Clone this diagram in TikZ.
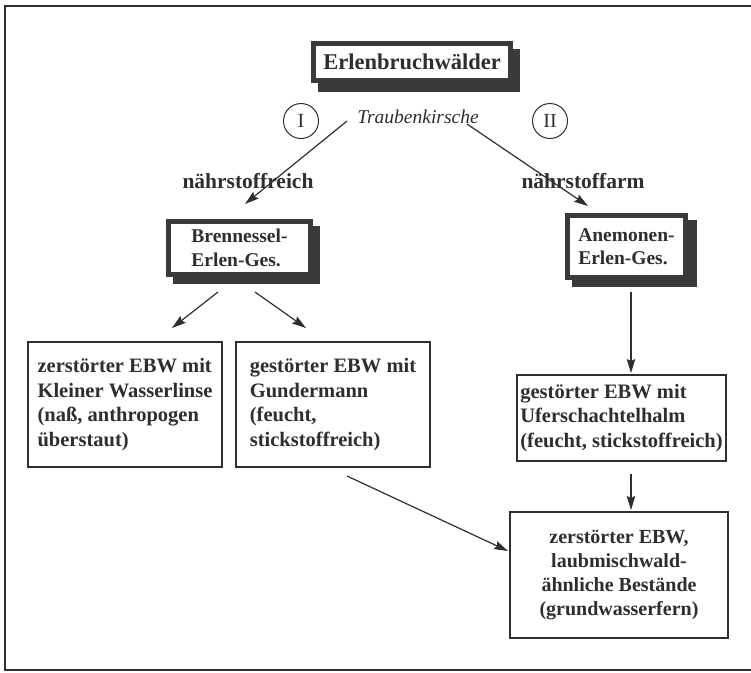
\documentclass[tikz,border=0pt]{standalone}
\usepackage{fontspec}
\setmainfont{Liberation Serif}
\usetikzlibrary{arrows.meta,backgrounds,calc}
\definecolor{ink}{HTML}{2E2E2E}
\definecolor{shade}{HTML}{3A3A3A}
\begin{document}
\begin{tikzpicture}[x=1pt,y=-1pt,
  shbox/.style={draw=shade,line width=5pt,fill=white,outer sep=0pt,align=left,inner sep=0pt,text=ink,font=\fontsize{19.5}{23.5}\selectfont\bfseries},
  titlebox/.style={shbox,font=\fontsize{22.5}{26}\selectfont\bfseries},
  plainbox/.style={draw=ink,line width=2pt,fill=white,outer sep=0pt,align=left,inner sep=0pt,text=ink,font=\fontsize{20.5}{24.5}\selectfont\bfseries},
  endbox/.style={plainbox,align=center,font=\fontsize{20}{24.3}\selectfont\bfseries},
  roman/.style={draw=ink,line width=1pt,circle,minimum size=35pt,inner sep=0pt,text=ink,font=\fontsize{20}{24}\selectfont},
  branch/.style={text=ink,font=\fontsize{21.5}{25}\selectfont\bfseries,inner sep=0pt},
  conn/.style={draw=ink,line width=1.2pt,-{Stealth[length=14pt,width=8.5pt,inset=2pt]}},
  shadowfill/.style={fill=shade}
]
\useasboundingbox (0,0) rectangle (751,672);
% outer frame
\draw[ink,line width=1.5pt] (751,6) -- (5,6) -- (5,670) -- (751,670);

% boxes with shadow
\node[titlebox,minimum width=197pt,minimum height=37pt] (title) at (412,62) {Erlenbruchwälder};
\node[shbox,minimum width=142pt,minimum height=53pt] (brenn) at (239.5,248) {Brennessel-\\Erlen-Ges.};
\node[shbox,minimum width=118pt,minimum height=62pt] (anem) at (626.5,246.5) {Anemonen-\\Erlen-Ges.};

\begin{scope}[on background layer]
  \fill[shadowfill] ($(title.north west)+(4.5,5.5)$) rectangle ($(title.south east)+(9.5,11.5)$);
  \fill[shadowfill] ($(brenn.north west)+(4.5,4.5)$) rectangle ($(brenn.south east)+(9.5,9.5)$);
  \fill[shadowfill] ($(anem.north west)+(4.5,4.5)$) rectangle ($(anem.south east)+(11.5,9.5)$);
\end{scope}

% labels
\node[text=ink,font=\fontsize{19.5}{23}\selectfont\itshape,inner sep=0pt] (trauben) at (418,117) {Traubenkirsche};
\node[roman] (one) at (301,121) {I};
\node[roman] (two) at (550,121) {II};
\node[branch] (reich) at (248,181) {nährstoffreich};
\node[branch] (arm) at (583,181) {nährstoffarm};

% lower boxes
\node[plainbox,minimum width=194pt,minimum height=125pt] (b1) at (125,404.5) {zerstörter EBW mit\\Kleiner Wasserlinse\\(naß, anthropogen\\überstaut)};
\node[plainbox,minimum width=194pt,minimum height=125pt] (b2) at (333,404.5) {gestörter EBW mit\\Gundermann\\(feucht,\\stickstoffreich)};
\node[plainbox,minimum width=209pt,minimum height=86pt] (b3) at (621.5,418) {gestörter EBW mit\\Uferschachtelhalm\\(feucht, stickstoffreich)};
\node[endbox,minimum width=218pt,minimum height=126pt] (b4) at (619,575) {zerstörter EBW,\\laubmischwald-\\ähnliche Bestände\\(grundwasserfern)};

% connector end points
\coordinate (t1) at (347,121);
\coordinate (e1) at (245,204);
\coordinate (t2) at (467,124);
\coordinate (e2) at (588,206);
\coordinate (s3) at (218,292);
\coordinate (e3) at (172,328);
\coordinate (s4) at (255,292);
\coordinate (e4) at (306,328);
\coordinate (s5) at (631,292);
\coordinate (e5) at (631,373);
\coordinate (s6) at (631,474);
\coordinate (e6) at (631,510);
\coordinate (s7) at (347,476);
\coordinate (e7) at (508,551);

\draw[conn] (t1) -- (e1);
\draw[conn] (t2) -- (e2);
\draw[conn] (s3) -- (e3);
\draw[conn] (s4) -- (e4);
\draw[conn] (s5) -- (e5);
\draw[conn] (s6) -- (e6);
\draw[conn] (s7) -- (e7);
\end{tikzpicture}
\end{document}
